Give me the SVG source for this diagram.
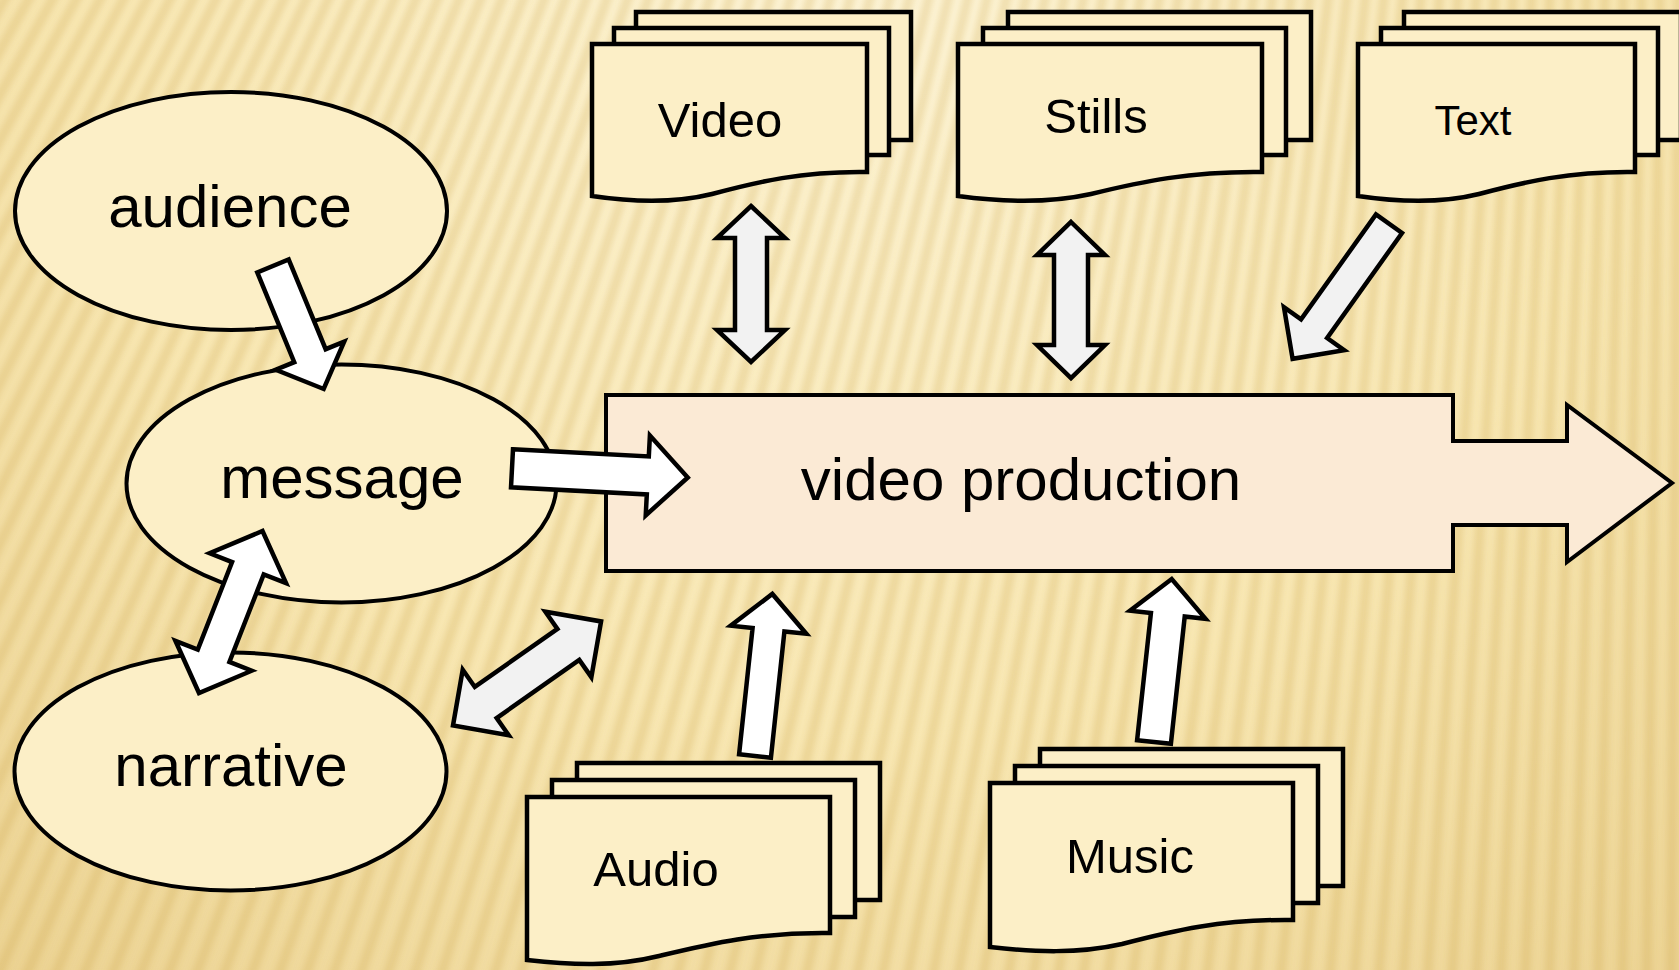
<svg xmlns="http://www.w3.org/2000/svg" width="1679" height="970" viewBox="0 0 1679 970">
  <defs>
    <radialGradient id="bgFill" cx="860" cy="-60" r="1750" gradientUnits="userSpaceOnUse">
      <stop offset="0" stop-color="#FEF6DA"/>
      <stop offset="0.45" stop-color="#F8E7B3"/>
      <stop offset="1" stop-color="#E2C37A"/>
    </radialGradient>
    <filter id="soft" filterUnits="userSpaceOnUse" x="0" y="0" width="1679" height="970">
      <feGaussianBlur stdDeviation="3"/>
    </filter>
  </defs>
  <style>
    .oval { fill: #FCEFC7; stroke: #000; stroke-width: 4; }
    .page { fill: #FCEFC7; stroke: #000; stroke-width: 4.5; stroke-linejoin: miter; }
    .block { fill: #FBEAD5; stroke: #000; stroke-width: 4; stroke-linejoin: miter; }
    .arrow-w { fill: #FFFFFF; stroke: #000; stroke-width: 4.5; stroke-linejoin: miter; }
    .arrow-g { fill: #F2F2F2; stroke: #000; stroke-width: 4.5; stroke-linejoin: miter; }
    .big { font-family: "Liberation Sans", Arial, sans-serif; font-size: 60px; fill: #000; text-anchor: middle; }
    .lbl { font-family: "Liberation Sans", Arial, sans-serif; font-size: 49px; fill: #000; text-anchor: middle; }
  </style>

  <!-- backdrop: warm gradient with soft radiating stripes -->
  <rect x="0" y="0" width="1679" height="970" fill="url(#bgFill)"/>
  <circle cx="1700" cy="-3000" r="3600" fill="none" stroke="#C9A24A" stroke-opacity="0.26"
          stroke-width="1600" stroke-dasharray="10 12" filter="url(#soft)"/>

  <!-- central process arrow -->
  <g id="video-production">
    <polygon class="block" points="606,395 1453,395 1453,441 1567,441 1567,405 1672,483 1567,562 1567,525 1453,525 1453,571 606,571"/>
    <text class="big" x="1021" y="500">video production</text>
  </g>

  <!-- concept ovals -->
  <g id="audience">
    <ellipse class="oval" cx="231" cy="211" rx="216" ry="119"/>
    <text class="big" x="230" y="227">audience</text>
  </g>
  <g id="message">
    <ellipse class="oval" cx="341.5" cy="483.5" rx="215" ry="119"/>
    <text class="big" x="342" y="498">message</text>
  </g>
  <g id="narrative">
    <ellipse class="oval" cx="230.5" cy="771.5" rx="216" ry="119"/>
    <text class="big" x="231" y="786">narrative</text>
  </g>

  <!-- media sources drawn as stacked documents -->
  <g id="video">
    <rect class="page" x="636" y="12" width="275" height="128"/>
    <rect class="page" x="614" y="28" width="275" height="127"/>
    <path class="page" d="M592,44 H867 V172 C802,171 757,182 712,194 C672,204 632,202 592,196 Z"/>
    <text class="lbl" x="720" y="137">Video</text>
  </g>
  <g id="stills">
    <rect class="page" x="1008" y="12" width="303" height="128"/>
    <rect class="page" x="983" y="28" width="303" height="127"/>
    <path class="page" d="M958,44 H1262 V172 C1190,171 1140,182 1091,194 C1046,204 1002,202 958,196 Z"/>
    <text class="lbl" x="1096" y="133">Stills</text>
  </g>
  <g id="text">
    <rect class="page" x="1404" y="12" width="277" height="128"/>
    <rect class="page" x="1381" y="28" width="277" height="127"/>
    <path class="page" d="M1358,44 H1635 V172 C1570,171 1524,182 1479,194 C1439,204 1398,202 1358,196 Z"/>
    <text class="lbl" x="1473" y="135" style="font-size:42px">Text</text>
  </g>
  <g id="audio">
    <rect class="page" x="577" y="763" width="303" height="137"/>
    <rect class="page" x="552" y="780" width="303" height="137"/>
    <path class="page" d="M527,797 H830 V933 C758,932 709,944 659,956 C615,967 571,965 527,960 Z"/>
    <text class="lbl" x="656" y="886">Audio</text>
  </g>
  <g id="music">
    <rect class="page" x="1040" y="749" width="303" height="137"/>
    <rect class="page" x="1015" y="766" width="303" height="137"/>
    <path class="page" d="M990,783 H1293 V920 C1221,919 1172,931 1122,944 C1078,954 1034,952 990,947 Z"/>
    <text class="lbl" x="1130" y="873">Music</text>
  </g>

  <!-- block-arrow connectors -->
  <g id="connectors">
    <!-- audience to message -->
    <polygon class="arrow-w" transform="translate(273,266) rotate(67.6)"
             points="0,-17 97,-17 97,-37 133,0 97,37 97,17 0,17"/>
    <!-- message to video production -->
    <polygon class="arrow-w" transform="translate(512,468.3) rotate(3)"
             points="0,-19 136,-19 136,-40 176,0 136,40 136,19 0,19"/>
    <!-- message and narrative, both ways -->
    <polygon class="arrow-w" transform="translate(199,693) rotate(-68.6)"
             points="0,0 40,-41 40,-17 134,-17 134,-41 174,0 134,41 134,17 40,17 40,41"/>
    <!-- narrative and video production, both ways -->
    <polygon class="arrow-g" transform="translate(453,725.5) rotate(-35.1)"
             points="0,0 40,-40 40,-19 141,-19 141,-40 181,0 141,40 141,19 40,19 40,40"/>
    <!-- Video and video production, both ways -->
    <polygon class="arrow-g" points="751,206 785,238 767,238 767,330 785,330 751,362 717,330 735,330 735,238 717,238"/>
    <!-- Stills and video production, both ways -->
    <polygon class="arrow-g" points="1071,222 1105,255 1088,255 1088,345 1105,345 1071,378 1037,345 1054,345 1054,255 1037,255"/>
    <!-- Text into video production -->
    <polygon class="arrow-g" transform="translate(1389,223.7) rotate(125.5)"
             points="0,-16 129,-16 129,-37 166,0 129,37 129,16 0,16"/>
    <!-- Audio into video production -->
    <polygon class="arrow-w" transform="translate(755,756) rotate(-83.9)"
             points="0,-16 127,-16 127,-38 163,0 127,38 127,16 0,16"/>
    <!-- Music into video production -->
    <polygon class="arrow-w" transform="translate(1154,742) rotate(-83.8)"
             points="0,-17 128,-17 128,-38 164,0 128,38 128,17 0,17"/>
  </g>
</svg>
